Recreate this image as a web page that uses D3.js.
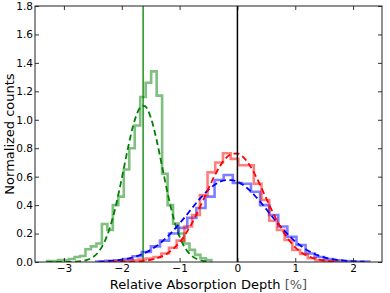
<!DOCTYPE html>
<html>
<head>
<meta charset="utf-8">
<script src="https://cdn.jsdelivr.net/npm/d3@7"></script>
<style>
  body { margin: 0; background: #fff; }
  text { font-family: "DejaVu Sans", sans-serif; }
</style>
</head>
<body>
<svg id="chart"></svg>
<script>
// histogram ranges (30 bins each) and bin heights
var greenRange = [-3.29, -0.45];
var greenCounts = [0.007, 0.007, 0.014, 0.014, 0.021, 0.035, 0.042, 0.09, 0.11, 0.13,
  0.267, 0.225, 0.40, 0.46, 0.65, 0.80, 0.96, 1.16, 1.26, 1.34,
  1.17, 0.62, 0.40, 0.27, 0.20, 0.13, 0.085, 0.05, 0.026, 0.014];

var redRange = [-2.25, 1.75];
var redCounts = [0.003, 0.005, 0.008, 0.012, 0.018, 0.025, 0.035, 0.06, 0.10, 0.15,
  0.25, 0.33, 0.47, 0.63, 0.70, 0.765, 0.725, 0.68, 0.68, 0.55,
  0.436, 0.29, 0.225, 0.155, 0.084, 0.056, 0.026, 0.012, 0.007, 0.003];

var blueRange = [-2.44, 2.28];
var blueCounts = [0.004, 0.008, 0.012, 0.02, 0.04, 0.07, 0.11, 0.15, 0.20, 0.24,
  0.31, 0.38, 0.46, 0.577, 0.612, 0.555, 0.55, 0.494, 0.40, 0.33,
  0.25, 0.178, 0.12, 0.06, 0.035, 0.02, 0.012, 0.006, 0.004, 0.003];

// gaussian fits
var greenFitX = [-3.3, -3.2, -3.1, -3.0, -2.9, -2.8, -2.7, -2.6, -2.5, -2.4, -2.3, -2.2, -2.1, -2.0,
  -1.9, -1.8, -1.7, -1.65, -1.6, -1.5, -1.4, -1.3, -1.2, -1.1, -1.0, -0.9, -0.8, -0.7, -0.6, -0.5];
var greenFitY = [0, 0, 0, 0.0002, 0.0007, 0.002, 0.006, 0.015, 0.034, 0.072, 0.14, 0.248, 0.399, 0.587,
  0.787, 0.963, 1.075, 1.099, 1.096, 1.018, 0.863, 0.667, 0.471, 0.303, 0.178, 0.095, 0.047, 0.021, 0.008, 0.003];

var redFitX = [-2.2, -2.1, -2.0, -1.9, -1.8, -1.7, -1.6, -1.5, -1.4, -1.3, -1.2, -1.1, -1.0, -0.9, -0.8,
  -0.7, -0.6, -0.5, -0.4, -0.3, -0.2, -0.1, 0.0, 0.1, 0.2, 0.3, 0.4, 0.5, 0.6, 0.7, 0.8,
  0.9, 1.0, 1.1, 1.2, 1.3, 1.4, 1.5, 1.6, 1.7];
var redFitY = [0.0001, 0.0003, 0.0006, 0.0013, 0.0025, 0.0047, 0.0085, 0.015, 0.025, 0.041, 0.064, 0.096, 0.139, 0.195, 0.263,
  0.342, 0.428, 0.517, 0.602, 0.675, 0.730, 0.760, 0.763, 0.738, 0.688, 0.618, 0.535, 0.446, 0.359, 0.278, 0.207,
  0.149, 0.103, 0.069, 0.045, 0.028, 0.017, 0.010, 0.005, 0.003];

var blueFitX = [-2.4, -2.3, -2.2, -2.1, -2.0, -1.9, -1.8, -1.7, -1.6, -1.5, -1.4, -1.3, -1.2, -1.1, -1.0,
  -0.9, -0.8, -0.7, -0.6, -0.5, -0.4, -0.3, -0.2, -0.1, 0.0, 0.1, 0.2, 0.3, 0.4, 0.5, 0.6,
  0.7, 0.8, 0.9, 1.0, 1.1, 1.2, 1.3, 1.4, 1.5, 1.6, 1.7, 1.8, 1.9, 2.0, 2.1, 2.2];
var blueFitY = [0.003, 0.0045, 0.007, 0.011, 0.016, 0.023, 0.033, 0.046, 0.064, 0.085, 0.112, 0.144, 0.182, 0.224, 0.271,
  0.320, 0.371, 0.421, 0.467, 0.508, 0.541, 0.565, 0.576, 0.576, 0.565, 0.541, 0.508, 0.467, 0.421, 0.371, 0.320,
  0.271, 0.224, 0.182, 0.144, 0.112, 0.085, 0.064, 0.046, 0.033, 0.023, 0.016, 0.011, 0.007, 0.0045, 0.003, 0.0017];

// vertical reference lines
var greenMark = -1.63;
var zeroMark = 0;

var xTicks = [-3, -2, -1, 0, 1, 2];
var yTicks = [0, 0.2, 0.4, 0.6, 0.8, 1.0, 1.2, 1.4, 1.6, 1.8];

var width = 390, height = 293;
var margin = { top: 6, right: 8, bottom: 31, left: 35 };

var svg = d3.select("#chart").attr("width", width).attr("height", height);

var x = d3.scaleLinear().domain([-3.5, 2.5]).range([margin.left, width - margin.right]);
var y = d3.scaleLinear().domain([0, 1.8]).range([height - margin.bottom, margin.top]);

svg.append("clipPath").attr("id", "plot-clip")
  .append("rect")
  .attr("x", margin.left).attr("y", margin.top)
  .attr("width", width - margin.left - margin.right)
  .attr("height", height - margin.top - margin.bottom);

var plot = svg.append("g").attr("clip-path", "url(#plot-clip)");

// step outline like matplotlib histtype='step'
function stepPoints(range, counts) {
  var w = (range[1] - range[0]) / counts.length;
  var pts = [[range[0], 0]];
  counts.forEach(function (c, i) {
    pts.push([range[0] + i * w, c]);
    pts.push([range[0] + (i + 1) * w, c]);
  });
  pts.push([range[1], 0]);
  return pts;
}

var stepLine = d3.line()
  .x(function (d) { return x(d[0]); })
  .y(function (d) { return y(d[1]); });

var fitLine = d3.line()
  .x(function (d) { return x(d[0]); })
  .y(function (d) { return y(d[1]); })
  .curve(d3.curveMonotoneX);

function drawHist(range, counts, color) {
  plot.append("path")
    .datum(stepPoints(range, counts))
    .attr("d", stepLine)
    .style("fill", "none")
    .style("stroke", color)
    .style("stroke-opacity", 0.5)
    .style("stroke-width", "2.6px")
    .style("stroke-linejoin", "miter");
}

function drawFit(xs, ys, color) {
  plot.append("path")
    .datum(d3.zip(xs, ys))
    .attr("d", fitLine)
    .style("fill", "none")
    .style("stroke", color)
    .style("stroke-width", "1.8px")
    .style("stroke-dasharray", "6,3.5");
}

drawHist(greenRange, greenCounts, "#008000");
drawFit(greenFitX, greenFitY, "#008000");
plot.append("line")
  .attr("x1", x(greenMark)).attr("x2", x(greenMark))
  .attr("y1", y(0)).attr("y2", y(1.8))
  .style("stroke", "#008000").style("stroke-opacity", 0.75)
  .style("stroke-width", "1.8px");

drawHist(blueRange, blueCounts, "#0000ff");
drawHist(redRange, redCounts, "#ff0000");
drawFit(blueFitX, blueFitY, "#0000ff");
drawFit(redFitX, redFitY, "#ff0000");

plot.append("line")
  .attr("x1", x(zeroMark)).attr("x2", x(zeroMark))
  .attr("y1", y(0)).attr("y2", y(1.8))
  .style("stroke", "#000").style("stroke-width", "1.5px");

// axes, ticks pointing inward on all four sides
var tickLen = 4;
svg.append("g")
  .attr("transform", "translate(0," + y(0) + ")")
  .call(d3.axisBottom(x).tickValues(xTicks).tickSize(-tickLen).tickPadding(3)
    .tickFormat(function (d) { return d < 0 ? "\u2212" + Math.abs(d) : d; }))
  .call(function (g) { g.select(".domain").remove(); });
svg.append("g")
  .attr("transform", "translate(0," + y(1.8) + ")")
  .call(d3.axisTop(x).tickValues(xTicks).tickSize(-tickLen).tickFormat(""))
  .call(function (g) { g.select(".domain").remove(); });
svg.append("g")
  .attr("transform", "translate(" + x(-3.5) + ",0)")
  .call(d3.axisLeft(y).tickValues(yTicks).tickSize(-tickLen).tickPadding(2).tickFormat(d3.format(".1f")))
  .call(function (g) { g.select(".domain").remove(); });
svg.append("g")
  .attr("transform", "translate(" + x(2.5) + ",0)")
  .call(d3.axisRight(y).tickValues(yTicks).tickSize(-tickLen).tickFormat(""))
  .call(function (g) { g.select(".domain").remove(); });

svg.selectAll(".tick line").style("stroke", "#000").style("stroke-width", "0.8px");
svg.selectAll(".tick text")
  .style("font-family", "DejaVu Sans")
  .style("font-size", "10.5px")
  .style("fill", "#000");

svg.append("rect")
  .attr("x", x(-3.5)).attr("y", y(1.8))
  .attr("width", x(2.5) - x(-3.5)).attr("height", y(0) - y(1.8))
  .style("fill", "none").style("stroke", "#222").style("stroke-width", "1px");

var xl = svg.append("text")
  .attr("x", (x(-3.5) + x(2.5)) / 2)
  .attr("y", 288.5)
  .style("text-anchor", "middle")
  .style("font-size", "13px");
xl.append("tspan").text("Relative Absorption Depth ");
xl.append("tspan").style("fill", "#555").text("[%]");

svg.append("text")
  .attr("transform", "translate(14," + (y(0) + y(1.8)) / 2 + ") rotate(-90)")
  .style("text-anchor", "middle")
  .style("font-size", "13px")
  .text("Normalized counts");
</script>
</body>
</html>
